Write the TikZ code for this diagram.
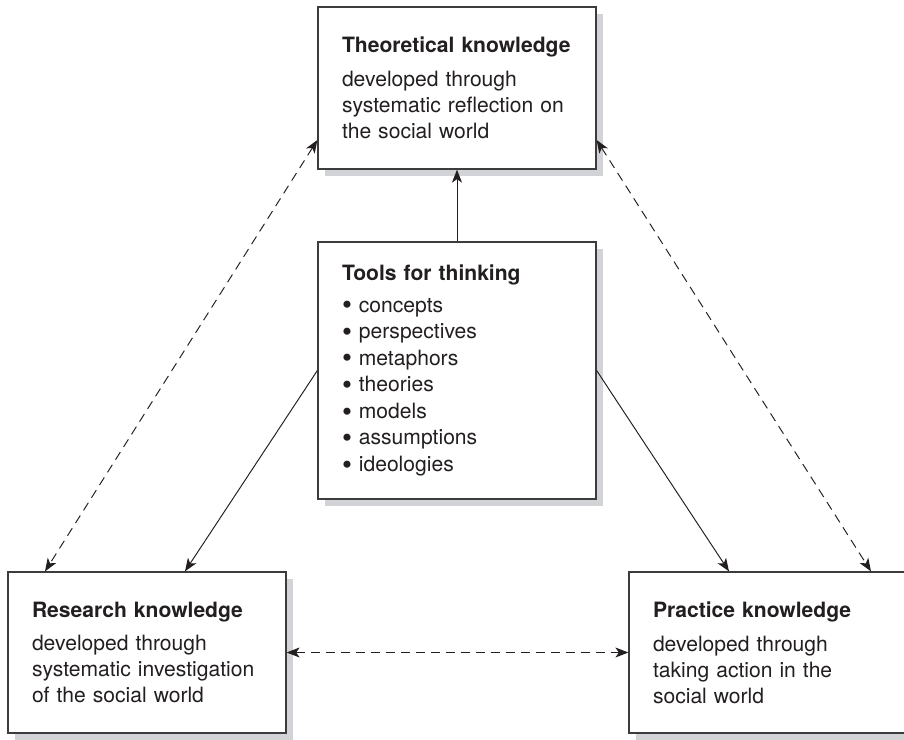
\documentclass[tikz,border=0pt]{standalone}
\usepackage{fontspec}
\setmainfont{TeX Gyre Heros}
\usepackage{xcolor}
\usetikzlibrary{arrows.meta,shadows}

\definecolor{inkgrey}{RGB}{35,31,32}
\definecolor{framegrey}{RGB}{60,60,60}
\definecolor{shadegrey}{RGB}{210,211,214}

\tikzset{
  knowbox/.style={draw=framegrey, line width=0.75pt, fill=white,
    text width=4.6cm, inner xsep=0.48cm, inner ysep=0pt,
    minimum width=5.56cm, minimum height=#1, align=left,
    text=inkgrey, font=\fontsize{12}{14.8}\selectfont,
    drop shadow={shadow xshift=0.14cm, shadow yshift=-0.14cm,
      fill=shadegrey, opacity=1}},
  link/.style={draw=inkgrey, line width=0.55pt},
  dashlink/.style={link, dash pattern=on 0.18cm off 0.12cm}
}
\newcommand{\bul}[1]{\makebox[9.6pt][l]{\raisebox{-1.6pt}{\scalebox{1.35}{\textbullet}}}#1}

\begin{document}
\begin{tikzpicture}[x=0.02cm, y=-0.02cm, >={Stealth[length=0.26cm,width=0.2cm,inset=0.07cm]}]
  \useasboundingbox (0,0) rectangle (904,740);
  \clip (0,0) rectangle (904,740);
  % Boxes
  \node[knowbox=3.24cm] (theo) at (457,88)
    {\textbf{Theoretical knowledge}\\[4.5pt]
     developed through\\ systematic reflection on\\ the social world};
  \node[knowbox=5.14cm] (tools) at (457,370.5)
    {\textbf{Tools for thinking}\\[3pt]
     \bul{concepts}\\[0.3pt] \bul{perspectives}\\[0.3pt] \bul{metaphors}\\[0.3pt]
     \bul{theories}\\[0.3pt] \bul{models}\\[0.3pt] \bul{assumptions}\\[0.3pt] \bul{ideologies}};
  \node[knowbox=3.22cm] (research) at (147,652.5)
    {\textbf{Research knowledge}\\[4.5pt]
     developed through\\ systematic investigation\\ of the social world};
  \node[knowbox=3.22cm] (practice) at (768,652.5)
    {\textbf{Practice knowledge}\\[4.5pt]
     developed through\\ taking action in the\\ social world};
  % Solid links from the tools
  \draw[link,->] (tools.north) -- (theo.south);
  \draw[link,->] (tools.west) -- ([xshift=0.76cm]research.north);
  \draw[link,->] (tools.east) -- ([xshift=-0.78cm]practice.north);
  % Dashed two-way links between kinds of knowledge
  \draw[dashlink,<->] ([yshift=-1.04cm]theo.west) -- ([xshift=-2.04cm]research.north);
  \draw[dashlink,<->] ([yshift=-1.04cm]theo.east) -- ([xshift=2.06cm]practice.north);
  \draw[dashlink,<->] (research.east) -- (practice.west);
\end{tikzpicture}
\end{document}
